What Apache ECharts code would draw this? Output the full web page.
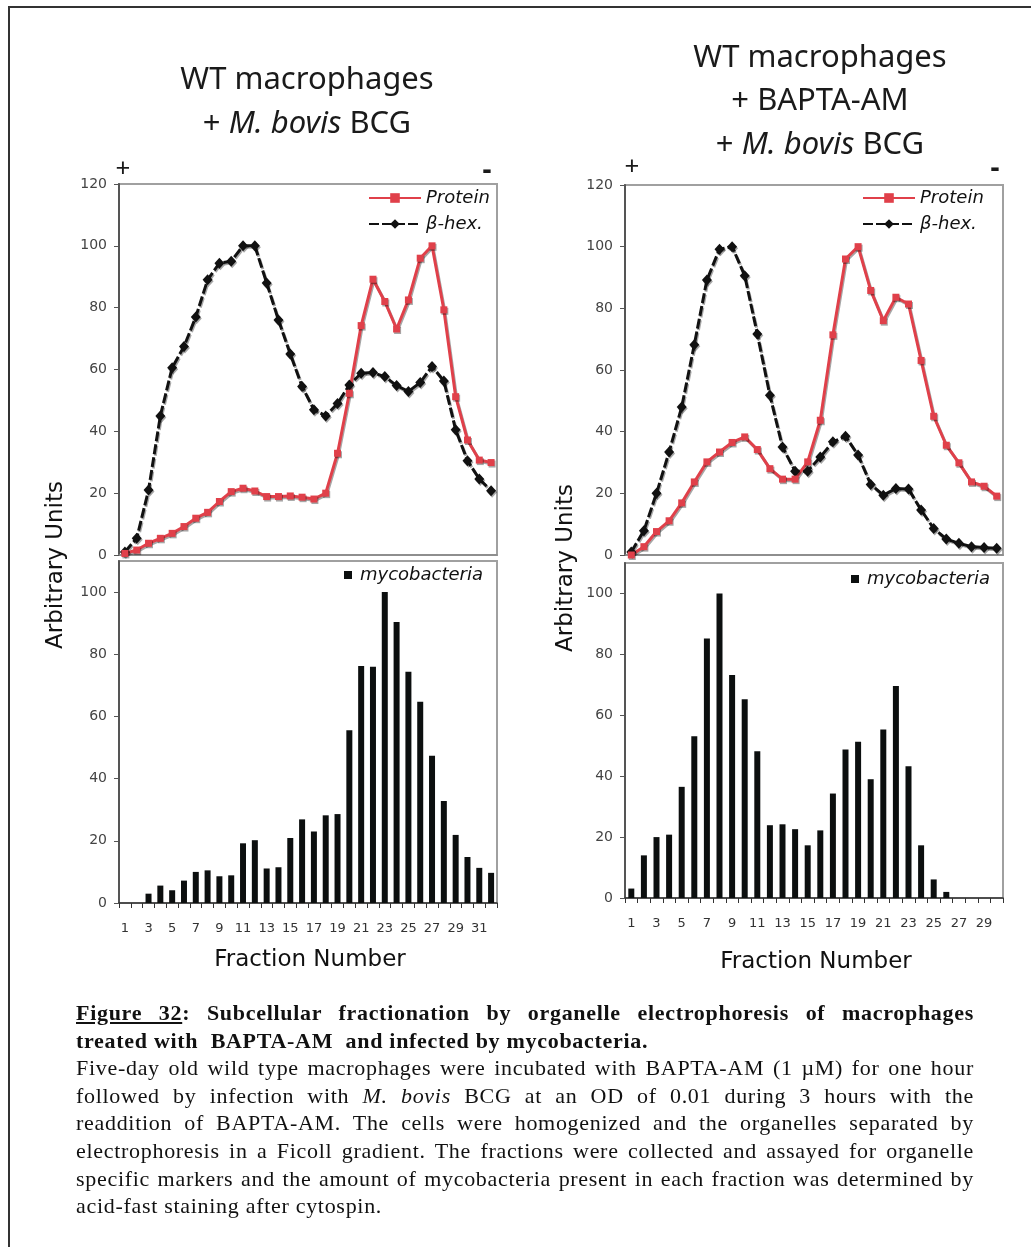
<!DOCTYPE html>
<html>
<head>
<meta charset="utf-8">
<script src="https://cdn.jsdelivr.net/npm/echarts@6/dist/echarts.min.js"></script>
<style>
  html, body { margin: 0; padding: 0; background: #fff; }
  #frame { position: absolute; left: 8px; top: 6px; width: 1100px; height: 1300px;
    border-left: 2px solid #333; border-top: 2px solid #333; }
  #chart { position: absolute; left: 0; top: 0; width: 1031px; height: 1247px; }
  #caption { position: absolute; left: 76px; top: 999px; width: 898px;
    font-family: "Liberation Serif", "Times New Roman", serif; font-size: 22px;
    letter-spacing: 0.7px; line-height: 27.6px; color: #111; }
  #caption .j { text-align: justify; text-align-last: justify; }
  #caption .l { text-align: left; }
</style>
</head>
<body>
<div id="frame"></div>
<div id="chart"></div>
<div id="caption">
  <div class="j"><b><u>Figure 32</u>: Subcellular fractionation by organelle electrophoresis of macrophages</b></div>
  <div class="l"><b>treated with &nbsp;BAPTA-AM &nbsp;and infected by mycobacteria.</b></div>
  <div class="j">Five-day old wild type macrophages were incubated with BAPTA-AM (1 µM) for one hour</div>
  <div class="j">followed by infection with <i>M. bovis</i> BCG at an OD of 0.01 during 3 hours with the</div>
  <div class="j">readdition of BAPTA-AM. The cells were homogenized and the organelles separated by</div>
  <div class="j">electrophoresis in a Ficoll gradient. The fractions were collected and assayed for organelle</div>
  <div class="j">specific markers and the amount of mycobacteria present in each fraction was determined by</div>
  <div class="l">acid-fast staining after cytospin.</div>
</div>
<script>
// fraction numbers (x categories)
const fractionsWT = ['1', '2', '3', '4', '5', '6', '7', '8', '9', '10', '11', '12', '13', '14', '15', '16',
  '17', '18', '19', '20', '21', '22', '23', '24', '25', '26', '27', '28', '29', '30', '31', '32'];
const fractionsBapta = ['1', '2', '3', '4', '5', '6', '7', '8', '9', '10', '11', '12', '13', '14', '15',
  '16', '17', '18', '19', '20', '21', '22', '23', '24', '25', '26', '27', '28', '29', '30'];

// WT macrophages + M. bovis BCG
const wtProtein = [0.5, 1.6, 3.8, 5.4, 7, 9.2, 11.9, 13.8, 17.3, 20.5, 21.6, 20.7, 18.9, 18.9, 19.1, 18.7,
  18.1, 20, 32.9, 52.3, 74.2, 89.2, 82, 73.1, 82.5, 96, 100, 79.3, 51.2, 37.2, 30.7, 29.9];
const wtHex = [1, 5.4, 21, 45, 60.6, 67.4, 77, 89, 94.4, 95, 100, 100, 88, 76, 65, 54.5,
  47, 45, 49, 55, 58.8, 59, 57.7, 54.8, 52.9, 55.8, 61, 56.3, 40.5, 30.5, 24.6, 20.8];
const wtMyco = [0, 0, 3, 5.6, 4.1, 7.2, 10, 10.5, 8.6, 8.9, 19.2, 20.2, 11.1, 11.5, 20.9, 26.9,
  23, 28.2, 28.6, 55.6, 76.2, 76, 100, 90.4, 74.4, 64.7, 47.4, 32.8, 21.9, 14.8, 11.3, 9.7];

// WT macrophages + BAPTA-AM + M. bovis BCG
const baptaProtein = [0, 2.7, 7.6, 11.1, 16.9, 23.7, 30.2, 33.4, 36.5, 38.3, 34.2, 28, 24.6, 24.6, 30.2,
  43.7, 71.4, 96, 100, 85.8, 76, 83.6, 81.4, 63.1, 45, 35.6, 29.9, 23.7, 22.3, 19.1];
const baptaHex = [1, 7.9, 20, 33.4, 48, 68.2, 89.2, 99.2, 100, 90.6, 71.7, 51.8, 35, 27.2, 27.2,
  31.8, 36.7, 38.5, 32.4, 22.9, 19.4, 21.6, 21.4, 14.6, 8.6, 5.2, 3.8, 2.7, 2.4, 2.2];
const baptaMyco = [3.1, 14, 20, 20.8, 36.5, 53.1, 85.2, 100, 73.2, 65.3, 48.2, 23.9, 24.2, 22.6, 17.3,
  22.2, 34.3, 48.8, 51.3, 39, 55.3, 69.6, 43.3, 17.3, 6.1, 2, 0, 0, 0, 0];

const RED = '#e0404a';
const BLACK = '#111';
const axisFont = 'DejaVu Sans, Verdana, sans-serif';
const titleFont = 'Noto Sans, Open Sans, sans-serif';

const chart = echarts.init(document.getElementById('chart'));

function topX(idx, data) {
  return {
    type: 'category', gridIndex: idx, data: data, boundaryGap: true,
    axisLine: { show: true, lineStyle: { color: '#888', width: 1.5 } },
    axisTick: { show: false }, axisLabel: { show: false }, splitLine: { show: false },
  };
}
function bottomX(idx, data) {
  return {
    type: 'category', gridIndex: idx, data: data, boundaryGap: true,
    axisLine: { show: true, lineStyle: { color: '#333', width: 1.5 } },
    axisTick: { show: true, interval: 0, length: 5, lineStyle: { color: '#333' } },
    axisLabel: { interval: 1, fontSize: 13, fontFamily: axisFont, color: '#333', margin: 19 },
    splitLine: { show: false },
  };
}
function yAx(idx, max) {
  return {
    type: 'value', gridIndex: idx, min: 0, max: max, interval: 20,
    axisLine: { show: true, lineStyle: { color: '#555', width: 2 } },
    axisTick: { show: true, length: 5, lineStyle: { color: '#555' } },
    axisLabel: { fontSize: 14, fontFamily: axisFont, color: '#444', margin: 12, showMaxLabel: max === 120 },
    splitLine: { show: false },
  };
}
const shadow = { shadowColor: 'rgba(0,0,0,0.35)', shadowOffsetX: 1, shadowOffsetY: 1.5 };
function hexLine(name, data, i) {
  return {
    type: 'line', name: name, xAxisIndex: i, yAxisIndex: i, data: data,
    symbol: 'diamond', symbolSize: [10, 11], showAllSymbol: true,
    itemStyle: Object.assign({ color: BLACK }, shadow),
    lineStyle: Object.assign({ color: BLACK, width: 3, type: [10, 3] }, shadow),
  };
}
function proteinLine(name, data, i) {
  return {
    type: 'line', name: name, xAxisIndex: i, yAxisIndex: i, data: data,
    symbol: 'rect', symbolSize: 7, showAllSymbol: true,
    itemStyle: Object.assign({ color: RED }, shadow),
    lineStyle: Object.assign({ color: RED, width: 3 }, shadow),
  };
}
function mycoBars(data, i) {
  return {
    type: 'bar', name: 'mycobacteria', xAxisIndex: i, yAxisIndex: i, data: data,
    barWidth: 6, itemStyle: { color: '#0c0f0f' },
  };
}
function lineLegend(left) {
  return {
    data: ['Protein', 'β-hex.'], orient: 'vertical', left: left, top: 187, padding: 0,
    itemWidth: 52, itemHeight: 12, itemGap: 4, selectedMode: false,
    textStyle: { fontFamily: axisFont, fontStyle: 'italic', fontSize: 18, lineHeight: 22, color: '#111' },
  };
}
function barLegend(left, top) {
  return {
    data: ['mycobacteria'], left: left, top: top, icon: 'rect', padding: 0,
    itemWidth: 8, itemHeight: 8, itemGap: 0, selectedMode: false,
    textStyle: { fontFamily: axisFont, fontStyle: 'italic', fontSize: 18, lineHeight: 22, color: '#111', padding: [0, 0, 0, 3] },
  };
}
function text(x, y, str, size, extra) {
  return {
    type: 'text', x: x, y: y, rotation: (extra && extra.rotation) || 0,
    style: Object.assign({
      text: str, align: 'center', verticalAlign: 'middle',
      fontFamily: titleFont, fontSize: size, fill: '#1a1a1a',
    }, extra && extra.style),
  };
}
const richBovis = {
  n: { fontFamily: titleFont, fontSize: 31, color: '#1a1a1a' },
  i: { fontFamily: titleFont, fontSize: 31, fontStyle: 'italic', color: '#1a1a1a' },
};

chart.setOption({
  animation: false,
  grid: [
    { left: 119, top: 184, width: 378, height: 371, show: true, borderColor: '#a0a0a0', borderWidth: 2 },
    { left: 119, top: 561, width: 378, height: 342, show: true, borderColor: '#a0a0a0', borderWidth: 2 },
    { left: 625, top: 185, width: 378, height: 370, show: true, borderColor: '#a0a0a0', borderWidth: 2 },
    { left: 625, top: 563, width: 378, height: 335, show: true, borderColor: '#a0a0a0', borderWidth: 2 },
  ],
  xAxis: [topX(0, fractionsWT), bottomX(1, fractionsWT), topX(2, fractionsBapta), bottomX(3, fractionsBapta)],
  yAxis: [yAx(0, 120), yAx(1, 110), yAx(2, 120), yAx(3, 110)],
  legend: [lineLegend(368), barLegend(344, 564), lineLegend(862), barLegend(851, 568)],
  series: [
    hexLine('β-hex.', wtHex, 0),
    proteinLine('Protein', wtProtein, 0),
    mycoBars(wtMyco, 1),
    hexLine('β-hex.', baptaHex, 2),
    proteinLine('Protein', baptaProtein, 2),
    mycoBars(baptaMyco, 3),
  ],
  graphic: [
    text(307, 80, 'WT macrophages', 31),
    text(307, 124, '{n|+ }{i|M. bovis}{n| BCG}', 31, { style: { rich: richBovis } }),
    text(820, 58, 'WT macrophages', 31),
    text(820, 101, '+ BAPTA-AM', 31),
    text(820, 145, '{n|+ }{i|M. bovis}{n| BCG}', 31, { style: { rich: richBovis } }),
    text(123, 170, '+', 26),
    text(487, 171, '-', 28, { style: { fontWeight: 'bold' } }),
    text(632, 168, '+', 26),
    text(995, 169, '-', 28, { style: { fontWeight: 'bold' } }),
    text(56, 565, 'Arbitrary Units', 23, { rotation: Math.PI / 2, style: { fontFamily: axisFont, fill: '#111' } }),
    text(566, 568, 'Arbitrary Units', 23, { rotation: Math.PI / 2, style: { fontFamily: axisFont, fill: '#111' } }),
    text(310, 960, 'Fraction Number', 23, { style: { fontFamily: axisFont, fill: '#111' } }),
    text(816, 962, 'Fraction Number', 23, { style: { fontFamily: axisFont, fill: '#111' } }),
  ],
});
</script>
</body>
</html>
